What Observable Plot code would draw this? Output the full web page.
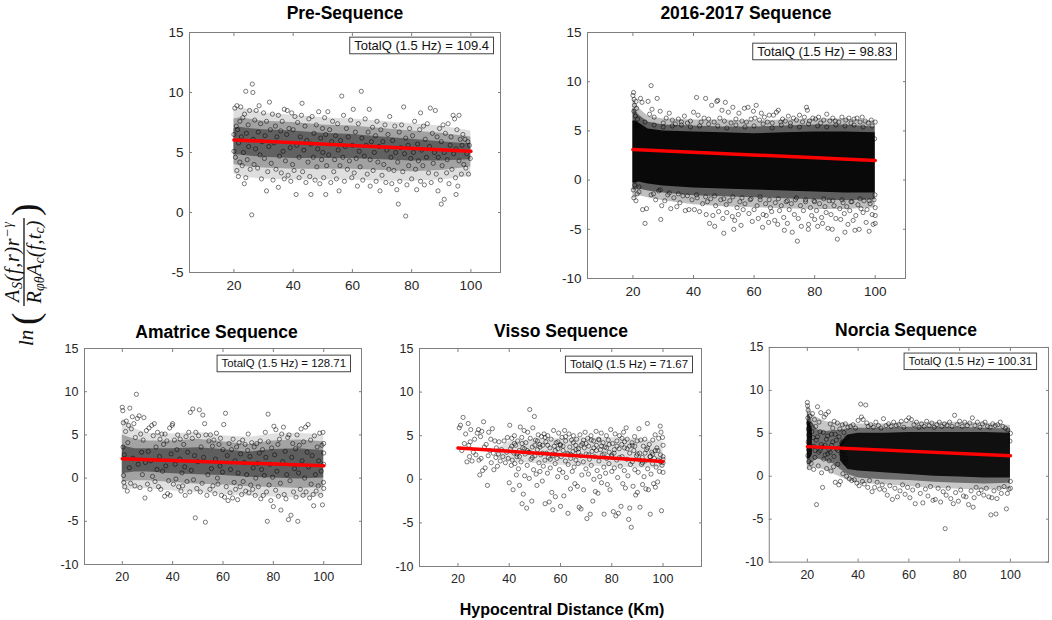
<!DOCTYPE html>
<html><head><meta charset="utf-8">
<script src="https://cdn.jsdelivr.net/npm/d3@7"></script>
<script src="https://cdn.jsdelivr.net/npm/@observablehq/plot@0.6"></script>
<style>
body{margin:0;background:#fff;}
#root{position:relative;width:1052px;height:620px;overflow:hidden;background:#fff;font-family:"Liberation Sans",Arial,Helvetica,sans-serif;}
.panel{position:absolute;}
#overlay{position:absolute;left:0;top:0;pointer-events:none;}
</style></head><body><div id="root"></div>
<script>
// ---------- DATA ----------
const titles = ["Pre-Sequence","2016-2017 Sequence","Amatrice Sequence","Visso Sequence","Norcia Sequence"];
const qLabels = ["TotalQ (1.5 Hz) = 109.4","TotalQ (1.5 Hz) = 98.83","TotalQ (1.5 Hz) = 128.71","TotalQ (1.5 Hz) = 71.67","TotalQ (1.5 Hz) = 100.31"];
const xTicks = [20,40,60,80,100];
const yTicksPre = [-5,0,5,10,15];
const yTicksSeq = [-10,-5,0,5,10,15];
const xLabel = "Hypocentral Distance (Km)";

// regression lines
const lineX = [20,100];
const preLineY = [6.05,5.1];
const seqLineY = [3.1,2.0];
const amaLineY = [2.25,1.42];
const visLineY = [3.6,2.05];
const norLineY = [3.45,2.4];

// density envelopes of each cloud (inner = densest, mid, outer = halo)
const preBandX = [20,22,25,30,40,50,60,70,80,90,100];
const preInLo  = [4.8,4.8,4.7,4.6,4.5,4.5,4.5,4.4,4.3,4.3,4.4];
const preInHi  = [7.0,7.1,7.0,6.9,6.8,6.6,6.5,6.3,6.1,5.9,5.7];
const preMidLo = [4.0,3.9,3.8,3.7,3.6,3.6,3.6,3.5,3.4,3.5,3.8];
const preMidHi = [7.8,7.9,7.8,7.6,7.5,7.3,7.2,7.0,6.8,6.6,6.3];
const preOutLo = [3.2,3.0,2.9,2.8,2.7,2.7,2.7,2.6,2.6,2.7,3.0];
const preOutHi = [8.6,8.7,8.6,8.3,8.1,7.9,7.8,7.6,7.4,7.2,6.8];

const seqBandX = [20,21,22,25,30,40,50,60,70,80,90,100];
const seqInLo  = [-0.3,-0.3,-0.2,-0.4,-0.6,-0.8,-0.9,-1.0,-1.1,-1.2,-1.3,-1.3];
const seqInHi  = [6.0,6.0,5.8,5.2,5.0,4.9,4.8,4.7,4.8,4.9,4.9,4.8];
const seqMidLo = [-1.0,-1.0,-0.9,-1.1,-1.3,-1.6,-1.7,-1.8,-1.9,-2.0,-2.1,-2.0];
const seqMidHi = [7.3,7.0,6.6,5.9,5.6,5.5,5.4,5.4,5.5,5.6,5.6,5.4];
const seqOutLo = [-1.9,-1.8,-1.6,-1.8,-2.1,-2.5,-2.7,-2.8,-2.9,-3.0,-3.0,-2.8];
const seqOutHi = [8.4,7.8,7.3,6.5,6.2,6.1,6.1,6.0,6.1,6.2,6.2,6.0];

const amaBandX = [20,22,25,30,40,50,60,70,80,90,100];
const amaInLo  = [0.5,0.6,0.7,0.7,0.5,0.4,0.3,0.1,0.0,-0.1,0.0];
const amaInHi  = [3.8,3.6,3.4,3.4,3.4,3.5,3.3,3.0,3.3,3.4,3.2];
const amaMidLo = [-0.5,-0.4,-0.3,-0.3,-0.5,-0.7,-0.8,-1.0,-1.1,-1.2,-1.1];
const amaMidHi = [5.0,4.8,4.5,4.3,4.3,4.5,4.2,3.9,4.3,4.4,4.2];
const amaOutLo = [-1.4,-1.3,-1.3,-1.2,-1.5,-1.7,-1.9,-2.1,-2.2,-2.3,-2.1];
const amaOutHi = [6.8,6.5,5.7,5.2,5.1,5.3,4.9,4.7,5.1,5.2,5.0];

const visBandX = [35,40,50,60,70,80,90,100];
const visMidLo = [2.5,2.0,1.8,1.6,1.5,1.4,1.3,1.3];
const visMidHi = [3.5,4.3,4.6,4.7,4.7,4.8,4.6,4.3];

const norBandX = [20,21,22,24,27,30,33,36,40,50,60,70,80,90,100];
const norInLo  = [2.0,2.0,2.5,null,null,null,1.8,0.8,0.6,0.4,0.2,0.0,-0.1,-0.2,-0.2];
const norInHi  = [6.5,6.3,5.5,null,null,null,3.8,4.8,5.0,5.0,5.1,5.1,5.1,5.1,5.0];
const norMidLo = [1.3,1.3,1.6,2.0,1.8,1.5,0.8,0.2,-0.2,-0.4,-0.5,-0.7,-0.8,-0.9,-0.8];
const norMidHi = [7.6,7.0,6.3,5.4,5.2,5.3,5.4,5.5,5.6,5.6,5.7,5.7,5.7,5.6,5.5];
const norOutLo = [0.7,0.8,1.0,1.0,0.7,0.3,-0.1,-0.5,-0.8,-1.0,-1.2,-1.4,-1.5,-1.6,-1.5];
const norOutHi = [8.4,8.0,7.2,6.8,6.4,6.2,6.2,6.1,6.1,6.1,6.3,6.3,6.3,6.2,5.9];

// scattered observations (x = distance km, y = ln ratio), flat x,y pairs
const preXY = [20,6.5,20,5.1,20.3,8.7,20.5,4.6,20.8,7.2,21,3.5,21,8.9,21.2,6.9,21.5,3.0,21.6,5.8,22,7.6,22,4.2,22.3,8.8,22.5,6.3,22.8,3.9,23,7.9,23.2,5.0,23.5,2.4,23.6,8.2,24,2.9,24,10.1,24.2,6.6,24.5,4.4,24.8,7.3,25,5.5,25.3,8.5,25.5,3.6,26,-0.2,26.2,10.7,26.4,10.0,26.5,6.1,26.8,4.0,27,7.7,27.3,5.3,27.5,8.5,28,3.7,28.2,6.7,28.5,8.9,28.8,4.8,29,7.4,29.3,2.8,29.5,5.9,
30,8.3,30.3,4.5,30.5,6.4,31,1.8,31,7.6,31.4,3.4,31.8,5.5,32,9.2,32.3,6.9,32.6,4.1,33,8.2,33.2,2.7,33.5,5.8,34,7.2,34.2,3.6,34.5,6.3,35,2.1,35,8.1,35.4,4.7,35.8,6.8,36,3.3,36.3,7.6,36.6,5.1,37,2.8,37,8.6,37.4,4.3,37.8,6.5,38,8.5,38.3,3.1,38.6,7.0,39,5.4,39.2,2.6,39.5,8.3,39.8,4.0,
40,6.9,40.3,3.5,40.6,8.0,41,1.5,41.2,5.6,41.5,7.5,42,2.9,42,4.6,42.4,6.3,42.8,8.1,43,9.1,43.2,3.4,43.6,5.2,44,7.2,44.3,2.5,44.6,6.0,45,4.2,45.3,7.8,45.6,3.0,46,1.5,46,5.7,46.4,8.0,46.8,4.6,47,6.6,47.4,2.7,47.8,7.3,48,3.8,48.3,5.3,48.6,8.4,49,2.4,49.3,6.2,49.6,4.4,49.9,7.0,
50,5.0,50.3,2.9,50.6,7.9,51,1.5,51,6.5,51.3,3.9,51.7,8.4,52,4.8,52.3,6.9,52.7,2.5,53,5.9,53.3,7.6,53.7,3.4,54,4.4,54.3,6.4,54.6,2.8,55,7.4,55.2,5.2,55.5,1.8,55.8,3.9,56,6.0,56.4,9.7,56.8,4.6,57,8.1,57.3,2.6,57.6,5.5,58,7.0,58.3,3.6,58.6,6.3,59,4.3,59.4,7.7,59.8,2.9,
60,5.6,60.3,8.6,60.6,3.3,61,6.7,61.3,4.5,61.7,2.2,62,7.4,62.3,5.1,62.6,3.8,63,10.1,63.2,6.2,63.5,2.7,64,4.7,64.3,7.8,64.6,5.6,65,3.2,65.3,6.7,65.7,8.6,66,2.2,66,4.4,66.4,5.9,66.8,7.1,67,3.5,67.4,5.0,67.8,6.4,68,2.6,68.3,7.6,68.6,4.2,69,5.5,69.3,1.8,69.6,6.9,70,3.1,
70.3,5.9,70.6,4.0,71,7.3,71.3,2.5,71.6,5.2,72,6.5,72.3,3.6,72.6,8.0,73,4.6,73.3,2.4,73.6,6.0,74,3.5,74.3,7.2,74.6,5.0,75,1.9,75.3,4.2,75.5,0.7,75.8,6.7,76,2.6,76.3,5.4,76.6,7.3,77,3.4,77.3,8.8,77.6,4.9,78,-0.3,78,6.2,78.4,2.3,78.8,5.6,79,3.9,79.3,7.0,79.7,4.5,
80,2.8,80.3,6.4,80.6,5.0,81,7.6,81.3,3.6,81.7,1.9,82,5.7,82.3,4.3,82.7,6.9,83,2.6,83,8.3,83.4,5.2,83.8,3.9,84,7.2,84.3,2.3,84.6,6.1,85,4.6,85.3,7.4,85.7,3.3,86,5.5,86.3,8.7,86.6,2.5,87,6.6,87.3,4.1,87.7,5.0,88,8.5,88.3,3.2,88.6,6.3,88.9,1.8,89,4.6,89.4,7.0,89.7,2.7,
90,0.7,90,5.9,90.3,3.9,90.6,7.3,91,1.1,91,5.0,91.4,6.6,91.8,3.3,92,4.4,92.3,7.4,92.6,2.4,93,5.6,93.3,6.3,93.6,3.6,94,8.1,94.2,4.9,94.5,7.8,94.8,2.9,95,1.5,95,5.3,95.3,6.9,95.6,2.2,96,8.1,96,4.3,96.4,6.1,96.8,3.2,97,5.6,97.3,6.5,97.6,4.0,98,6.1,98.3,3.7,98.6,4.9,99,5.9,99.2,3.2,99.5,5.6,99.8,4.5];

const seqXY = [20,8.6,20.2,8.9,20.4,8.2,20.5,7.6,20.3,7.0,20.8,6.5,21,8.0,21.2,7.3,21.5,6.2,20.1,-1.0,20.3,-1.8,20.6,-0.5,21,-2.1,21.4,-1.4,22,-0.7,22.5,8.3,23,7.9,23.2,-3.0,24,-4.4,24.5,-2.9,25,8.0,25.5,6.7,26,9.6,26.3,7.2,26.8,-1.4,27,6.4,27.5,-2.0,28,8.3,28.5,-1.1,29,7.0,29.2,-4.0,29.5,-2.6,30,5.8,30.5,-2.1,31,6.3,31.5,-1.5,32,6.8,32.5,-2.9,33,6.1,33.5,-1.8,34,5.7,34.5,-2.7,35,6.2,35.5,-2.3,36,5.9,36.5,-1.6,37,6.5,37.3,-3.1,38,5.8,38.5,-3.0,39,6.0,39.5,-2.0,
40,6.9,40.3,-3.0,41,8.4,41.2,-1.8,41.5,6.6,42,-3.2,42.5,5.9,43,-2.4,43.5,6.3,44,8.3,44.2,-3.5,44.6,-2.2,45,6.2,45.3,-4.4,45.7,-1.9,46,7.6,46.4,-3.6,46.8,5.9,47,-4.7,47.3,-2.6,47.7,8.0,48,8.1,48.3,-3.2,48.7,6.3,49,-2.0,49.4,7.1,49.7,-3.9,50,-5.4,50.2,6.0,50.5,7.9,50.8,-2.5,51,-3.3,51.5,6.9,52,-2.1,52.4,5.8,52.8,-3.7,53,7.4,53.3,-5.0,53.6,-4.1,54,6.2,54.4,-2.8,54.8,-3.5,55,6.8,55.3,-2.2,55.7,-4.6,56,6.0,56.4,-3.0,56.8,7.3,57,-2.4,57.5,5.9,58,7.4,58.3,-3.4,58.7,-2.0,59,6.2,59.4,-4.2,59.8,7.0,
60,-3.0,60.3,6.3,60.7,7.6,61,-2.6,61.4,-3.9,61.8,6.1,62,-2.0,62.4,6.8,62.8,-4.8,63,-3.5,63.4,6.4,63.8,-2.4,64,-3.6,64.4,5.9,64.8,-4.3,65,6.6,65.4,-2.8,65.8,-3.2,66,5.8,66.4,6.6,66.8,-4.1,67,-2.3,67.4,6.9,67.8,-4.5,68,7.1,68.4,-3.1,68.8,5.9,69,-2.6,69.4,6.2,69.8,-3.8,70,-5.1,70.3,6.0,70.6,-2.2,71,-4.4,71.3,6.5,71.6,-3.0,72,5.8,72.3,-2.4,72.6,-5.3,73,6.3,73.3,-3.5,73.6,-2.0,74,6.1,74.3,-6.2,74.6,-3.9,75,6.6,75.3,-2.6,75.6,-4.7,76,5.9,76.3,-3.1,76.6,6.4,77,-2.2,77.3,7.4,77.6,7.1,77.9,-5.0,78,-4.5,78.3,6.0,78.6,-2.8,79,-3.6,79.4,6.3,79.8,-2.1,
80,-4.0,80.3,6.2,80.6,-3.1,81,-4.7,81.3,6.4,81.6,-2.4,82,5.8,82.3,-3.8,82.6,-4.4,83,6.1,83.4,-2.7,83.8,-3.3,84,6.7,84.4,-4.9,84.8,-2.1,85,6.0,85.4,-3.5,85.8,-5.0,86,6.3,86.4,-2.6,86.8,6.0,87,-3.9,87.5,-6.0,88,5.9,88.3,-2.9,88.6,-4.0,89,6.4,89.4,-2.3,89.8,-3.4,90,-5.3,90.3,6.1,90.6,-2.7,91,-4.5,91.3,6.3,91.6,-3.1,92,5.8,92.3,-2.2,92.7,-4.1,93,6.2,93.3,-5.1,93.6,-3.6,94,6.3,94.3,-2.5,94.7,-5.0,95,5.9,95.3,-2.9,95.7,6.4,96,-3.3,96.3,-2.1,96.7,6.0,97,-4.3,97.3,-3.0,97.7,5.8,98,-5.2,98.3,-2.4,98.7,6.1,99,-3.5,99.3,-4.5,99.6,-2.0,100,5.9,100,-2.8,100,-3.6,100,-4.4,99.8,4.2,99.9,-1.5,
21,5.5,24,5.9,27,5.6,30,5.4,33,5.5,36,5.6,39,5.4,42,5.5,45,5.7,48,5.5,51,5.3,54,5.6,57,5.4,60,5.5,63,5.7,66,5.3,69,5.6,72,5.5,75,5.4,78,5.7,81,5.5,84,5.4,87,5.6,90,5.5,93,5.6,96,5.4,99,5.5,22,-1.2,26,-1.5,29,-1.0,32,-1.3,35,-1.4,38,-1.6,41,-1.5,44,-1.7,47,-1.6,50,-1.9,53,-1.7,56,-1.8,59,-1.9,62,-1.7,65,-2.0,68,-1.9,71,-2.1,74,-1.8,77,-2.0,80,-2.2,83,-1.9,86,-2.1,89,-2.0,92,-2.2,95,-1.9,98,-2.1];

const amaXY = [20,8.2,20.2,7.8,20.4,6.4,20.3,3.6,20.5,0.3,20.6,-0.5,20.8,2.7,21,-1.0,21.3,5.4,21.6,6.6,22,-1.5,22.2,4.1,22.5,6.1,22.8,1.2,23,8.1,23.3,-0.6,23.6,5.7,24,7.1,24.2,2.3,24.6,6.3,25,-0.9,25.2,4.7,25.6,9.7,26,6.9,26.3,1.6,26.7,7.2,27,-1.1,27.3,5.1,27.7,3.0,28,0.4,28.3,4.4,28.6,7.0,29,-2.3,29.2,1.8,29.6,5.5,30,-0.7,30.3,3.1,30.6,5.8,31,-1.3,31.3,2.0,31.7,6.1,32,0.2,32.3,4.9,32.7,6.3,33,-0.4,33.4,3.6,33.8,1.0,34,5.3,34.4,-1.0,34.8,2.5,35,4.5,35.3,-1.3,35.7,5.1,36,0.8,36.4,3.9,36.8,-2.1,37,5.1,37.3,1.4,37.7,4.3,38,-1.8,38.4,-0.3,38.8,5.8,39,-2.0,39.4,2.8,39.8,6.1,
40,6.3,40.3,-0.7,40.7,4.4,41,1.6,41.3,-0.1,41.7,3.3,42,5.0,42.4,-1.0,42.8,2.2,43,4.5,43.3,-1.5,43.7,0.6,44,-0.9,44.4,3.9,44.8,1.3,45,-2.0,45.3,4.8,45.7,-0.4,46,3.0,46.4,5.3,46.8,-1.6,47,7.6,47.4,0.9,47.8,4.6,48,8.0,48.3,-0.2,48.7,2.6,49,-4.6,49.2,5.3,49.6,-1.2,50,1.9,50.3,4.9,50.6,7.9,51,-1.6,51.3,3.6,51.7,-0.6,52,7.3,52.3,2.4,52.7,6.3,53,-5.1,53.2,5.0,53.6,-2.0,54,0.4,54.4,4.3,54.8,-1.3,55,5.0,55.4,1.1,55.8,3.7,56,-0.9,56.4,4.4,56.8,-1.8,57,2.2,57.4,5.2,57.8,0.0,58,-0.7,58.4,3.9,58.8,1.4,59,4.6,59.4,-2.0,59.8,0.7,
60,3.3,60.3,6.2,60.6,-2.2,61,7.5,61.3,-1.0,61.7,2.6,62,-2.6,62.4,4.0,62.8,-1.7,63,1.0,63.4,3.3,63.8,-2.3,64,4.5,64.4,-0.5,64.8,2.0,65,-1.3,65.4,3.6,65.8,-2.5,66,0.6,66.4,4.1,66.8,-1.0,67,2.8,67.4,-1.9,67.8,4.4,68,-0.4,68.4,1.8,68.8,3.9,69,-1.5,69.4,0.4,69.8,3.2,70,5.1,70.3,-1.7,70.7,2.5,71,-0.8,71.4,4.1,71.8,-1.3,72,1.2,72.4,3.6,72.8,-2.0,73,0.0,73.4,4.0,73.8,1.7,74,-1.0,74.4,2.9,74.8,4.3,75,-2.4,75.3,1.0,75.7,3.3,76,-2.0,76.4,0.3,76.8,5.3,77,2.4,77.3,-1.6,77.6,-5.0,77.9,7.4,78,4.2,78.3,-0.8,78.7,1.6,79,-2.6,79.3,3.5,79.7,0.1,
80,-3.3,80.2,6.0,80.5,2.7,80.9,-1.4,81,5.6,81.4,0.8,81.8,3.9,82,-2.1,82.4,4.5,82.8,-0.6,83,-3.7,83.3,5.1,83.7,1.9,84,5.9,84.3,-1.9,84.7,3.1,85,-2.4,85.3,0.4,85.7,4.7,86,-4.8,86.2,5.0,86.6,-0.3,87,-4.3,87.3,2.4,87.7,4.0,88,-1.6,88.4,1.1,88.8,3.4,89,-2.2,89.4,5.0,89.7,-5.0,90,0.6,90.3,3.8,90.7,-1.3,91,5.7,91.4,2.0,91.8,-2.0,92,4.2,92.4,0.0,92.8,5.9,93,-1.6,93.4,3.0,93.8,6.2,94,1.3,94.4,-2.3,94.8,4.4,95,-0.7,95.4,2.6,95.8,-1.9,96,-3.2,96.3,4.9,96.7,0.4,97,-1.5,97.4,3.6,97.8,-0.9,98,2.0,98.4,5.2,98.8,-2.0,99,0.8,99.3,3.8,99.5,-3.1,99.7,5.3,99.9,-0.5,100,1.6,100,4.0,100,2.9,100,-1.2];

const visXY = [20.5,5.9,21,6.2,21.5,3.3,22,7.1,22.5,4.1,23,5.2,23.5,2.0,24,6.4,24.2,3.9,24.5,2.6,24.8,4.3,25,5.7,25.5,2.1,26,3.1,26.5,4.6,27,2.8,27.5,5.3,28,5.7,28.2,2.2,28.5,0.5,28.8,4.9,29,2.4,29.3,5.5,29.6,1.0,30,6.6,30.3,3.7,30.6,1.3,31,4.0,31.5,-0.7,31.8,2.7,32,5.4,32.4,3.3,32.8,4.6,33,1.9,33.4,5.8,33.8,3.0,34,1.1,34.4,4.4,34.8,2.5,35,3.6,35.4,1.5,35.8,2.9,36,4.3,36.5,2.1,37,3.4,37.5,2.6,38,4.4,38.5,1.9,39,3.1,39.3,4.8,39.6,2.4,
40,-0.4,40.2,6.2,40.5,3.5,40.8,1.6,41,4.7,41.2,2.2,41.5,-1.2,41.8,3.0,42,5.0,42.2,1.8,42.5,3.9,42.8,0.5,43,2.6,43.3,4.4,43.6,1.2,43.9,3.3,44,-0.7,44.3,6.0,44.6,2.0,44.9,4.8,45,-2.8,45.3,3.6,45.5,-1.7,45.8,5.6,46,0.4,46.2,2.9,46.5,4.2,46.8,-3.3,47,1.6,47.2,5.4,47.5,3.1,47.8,0.1,48,8.0,48.2,4.7,48.5,2.3,48.8,-2.5,49,3.7,49.2,5.9,49.5,1.1,49.8,7.2,
50,2.7,50.2,4.5,50.5,0.6,50.8,-0.7,51,3.4,51.3,5.1,51.6,1.9,51.9,4.0,52,0.9,52.3,2.8,52.6,4.9,52.9,-0.2,53,3.9,53.3,1.5,53.6,5.2,53.9,2.2,54,-2.8,54.3,4.3,54.6,3.0,54.9,0.7,55,5.0,55.3,2.5,55.6,-2.6,55.9,3.6,56,1.3,56.3,4.6,56.6,-1.5,56.9,2.9,57,-3.5,57.3,5.6,57.6,3.8,57.9,1.8,58,-2.0,58.3,4.2,58.6,2.4,58.9,0.3,59,3.5,59.3,5.3,59.6,1.1,59.9,4.0,
60,-3.1,60.3,2.6,60.6,4.8,60.9,0.8,61,3.3,61.3,-1.9,61.6,5.6,61.9,2.1,62,4.4,62.3,0.2,62.6,3.0,62.9,-3.9,63,1.7,63.3,5.2,63.6,3.7,63.9,-1.1,64,2.4,64.3,4.5,64.6,0.9,64.9,3.2,65,5.0,65.3,1.4,65.6,-0.5,65.9,3.9,66,2.2,66.3,4.6,66.6,-0.8,66.9,1.8,67,3.5,67.3,-3.2,67.6,5.1,67.9,2.7,68,-3.4,68.3,0.5,68.6,4.1,68.9,2.0,69,-1.2,69.3,3.6,69.6,5.4,69.9,1.2,
70,2.9,70.3,-4.5,70.6,4.7,70.9,0.6,71,3.8,71.3,2.3,71.6,-4.0,71.9,5.0,72,1.6,72.3,3.2,72.6,-2.5,72.9,4.4,73,0.0,73.3,2.6,73.6,-1.4,73.9,5.5,74,3.9,74.3,1.0,74.6,-1.6,74.9,4.6,75,2.1,75.3,0.3,75.6,3.4,75.9,5.3,76,-0.4,76.3,2.8,76.6,4.2,76.9,1.4,77,-4.0,77.3,3.7,77.6,0.7,77.9,5.0,78,2.4,78.3,-0.6,78.6,4.5,78.9,1.8,79,3.1,79.3,-1.2,79.6,5.7,79.9,2.6,
80,0.9,80.3,4.1,80.6,-3.7,80.9,3.0,81,1.3,81.3,5.2,81.6,-4.2,81.9,2.2,82,4.4,82.3,0.2,82.6,-3.9,82.9,3.5,83,5.0,83.3,1.5,83.6,-3.1,83.9,4.0,84,2.6,84.3,-0.5,84.6,5.4,84.9,1.0,85,3.6,85.3,-1.0,85.6,5.9,85.9,2.3,86,4.6,86.3,0.4,86.6,-4.6,86.9,3.8,87,-3.3,87.3,1.7,87.6,-5.5,87.9,4.2,88,2.0,88.3,-0.8,88.6,3.3,88.9,4.9,89,1.1,89.3,-1.8,89.6,2.7,89.9,4.4,
90,-1.5,90.3,0.8,90.6,5.8,90.9,3.0,91,-3.2,91.3,4.5,91.6,1.7,91.9,2.5,92,-0.6,92.3,3.8,92.6,0.3,92.9,4.6,93,2.1,93.3,-1.1,93.6,3.4,93.9,6.4,94,1.2,94.3,-1.2,94.6,4.0,94.9,2.6,95,-4.0,95.3,0.6,95.6,3.1,95.9,1.8,96,4.5,96.3,-0.5,96.6,2.4,96.9,5.1,97,-0.9,97.3,1.4,97.6,3.6,97.9,-0.3,98,2.2,98.3,4.7,98.6,0.9,98.9,6.1,99,2.8,99.2,5.4,99.4,-3.6,99.6,1.6,99.8,4.8,100,2.3,100,0.8,100,3.9,100,2.6,
41,3.8,43,2.9,45,4.1,47,3.3,49,2.5,51,4.4,53,3.0,55,3.9,57,2.7,59,4.3,61,3.8,63,2.9,65,4.2,67,3.1,69,4.5,71,2.8,73,3.6,75,4.5,77,2.9,79,4.0,81,3.4,83,2.5,85,4.3,87,3.0,89,3.8,91,2.2,93,3.0,95,2.6,97,3.3,99,2.0,42,4.1,46,3.5,50,3.9,54,4.8,58,3.3,62,4.9,66,3.4,70,4.1,74,3.3,78,3.6,82,3.8,86,3.5,90,2.9,94,3.6,98,3.3,60,3.9,64,2.8,68,3.9,72,4.5,76,3.8,80,2.8,84,4.7,88,3.9,92,1.9,96,2.9,100,1.9,56,2.3,52,3.7,48,3.1,44,2.6];

const norXY = [20,8.6,20.1,8.2,20.3,7.7,20.2,6.8,20.5,6.2,20.4,5.5,20.6,4.8,20.3,4.0,20.5,3.1,20.2,2.4,20.6,1.7,20.8,1.0,21,7.0,21.2,6.0,21.5,1.5,21.8,5.2,22,7.3,22.3,4.5,22.5,0.8,22.8,6.6,23,2.2,23.3,5.8,23.6,-3.3,24,8.1,24.3,1.2,24.6,6.3,25,3.0,25.3,7.4,25.6,0.4,26,-1.3,26.3,5.1,26.6,6.9,27,2.5,27.3,7.2,27.6,0.9,28,4.7,28.3,7.5,28.6,1.8,29,6.1,29.3,0.6,29.6,3.6,30,5.6,30.3,1.1,30.6,6.4,31,-0.7,31.4,4.2,31.8,6.2,32,1.4,32.4,-1.0,32.8,5.5,33,-0.6,33.4,2.6,33.8,6.0,34,0.3,34.4,5.1,34.8,1.6,35,6.1,35.5,0.0,36,5.7,36.5,-0.3,37,5.8,37.5,-0.5,38,6.0,38.5,-0.4,39,5.6,39.5,-0.8,
40,6.5,40.4,-1.1,41,8.4,41.3,6.9,41.7,-0.6,42,6.6,42.4,-0.9,43,8.3,43.4,6.2,43.8,-1.3,44,5.8,44.5,-0.5,45,6.0,45.5,-1.8,46,5.7,46.5,-1.3,47,6.3,47.5,-0.7,48,5.9,48.5,-1.5,49,5.6,49.5,-1.0,50,6.7,50.4,-1.6,51,5.9,51.5,-2.2,52,6.1,52.5,-1.1,53,5.8,53.5,-2.7,54,6.3,54.5,-1.4,55,5.9,55.5,-2.4,56,6.0,56.5,-1.7,57,6.4,57.5,-1.0,58,5.7,58.5,-2.1,59,6.5,59.5,-1.3,
60,6.8,60.4,-2.5,61,6.6,61.5,-1.6,62,6.0,62.5,-3.2,63,6.3,63.5,-1.1,64,5.7,64.5,-2.0,65,6.1,65.5,-3.1,66,5.8,66.5,-1.5,67,6.4,67.5,-2.3,68,5.9,68.5,-1.2,69,6.2,69.5,-2.8,70,5.7,70.4,-2.7,71,6.0,71.5,-1.4,72,6.3,72.5,-3.0,73,5.8,73.5,-1.8,74,6.1,74.3,-6.1,74.7,-2.2,75,5.9,75.5,-1.4,76,6.3,76.5,-2.6,77,5.8,77.5,-3.2,78,7.1,78.4,-1.9,79,6.0,79.5,-2.9,
80,6.4,80.4,-1.6,81,5.8,81.5,-2.3,82,6.3,82.5,-2.4,83,5.9,83.5,-3.3,84,6.2,84.5,-1.7,85,6.8,85.3,-3.6,85.7,-2.5,86,5.9,86.5,-1.3,87,6.3,87.5,-2.0,88,5.7,88.5,-1.6,89,6.1,89.5,-2.2,90,6.3,90.5,-1.4,91,5.8,91.5,-2.4,92,5.7,92.3,-4.5,92.7,-2.5,93,6.1,93.5,-1.7,94,5.9,94.3,-4.4,94.7,-2.6,95,6.0,95.5,-1.4,96,6.3,96.4,-2.0,97,5.8,97.5,-1.2,98,5.6,98.4,-3.8,98.8,-2.0,99,5.4,99.4,-1.5,100,5.0,100,-1.4,100,-0.6,99.8,4.1,
22.5,3.5,23.5,4.2,24.5,2.8,25.5,3.7,26.5,2.0,27.5,4.3,28.5,3.1,29.5,4.9,30.5,2.3,31.5,3.2,32.5,4.6,33.5,3.9,34.5,2.9,35.5,4.5,23,3.0,25,5.2,27,3.6,29,2.8,31,4.9,33,3.4,35,2.1,24,4.6,26,3.4,28,2.6,30,4.0,32,3.0,34,4.1];

// ---------- LAYOUT / STYLE (not data) ----------
const layout = [
  {l:189,t:32,r:500,b:272, xd:[5,110], yd:[-5,15], yt:yTicksPre, qr:7,  qt:5,  tf:13.5, qf:13,   tx:345,   ty:18.5, op:[0.4,0.27,0.13]},
  {l:587,t:32,r:905,b:278, xd:[5,110], yd:[-10,15], yt:yTicksSeq, qr:9, qt:11, tf:13.5, qf:13,   tx:746,   ty:18.5, op:[0.9,0.5,0.25]},
  {l:84, t:348,r:361,b:564, xd:[5,115], yd:[-10,15], yt:yTicksSeq, qr:11,qt:7, tf:12.5, qf:11.4, tx:216.5, ty:338,  op:[0.42,0.27,0.12]},
  {l:419,t:348,r:701,b:566, xd:[5,115], yd:[-10,15], yt:yTicksSeq, qr:9, qt:8, tf:12.5, qf:11.4, tx:561,   ty:337,  op:[0,0.12,0]},
  {l:769,t:347,r:1050,b:563,xd:[5,115], yd:[-10,15], yt:yTicksSeq, qr:12,qt:6, tf:12.5, qf:11.4, tx:906,   ty:336,  op:[0.85,0.45,0.22]}
];

const pairs = a => { const o=[]; for(let i=0;i<a.length;i+=2) o.push({x:a[i], y:a[i+1]}); return o; };
const pick = (a,i) => a ? a[i] : null;
const bandTable = (X,lo,hi,mlo,mhi,olo,ohi) => X.map((x,i)=>({x, lo:pick(lo,i), hi:pick(hi,i), mlo:pick(mlo,i), mhi:pick(mhi,i), olo:pick(olo,i), ohi:pick(ohi,i)}));
const lineTable = Y => lineX.map((x,i)=>({x, y:Y[i]}));

const series = [
  {pts:pairs(preXY), band:bandTable(preBandX,preInLo,preInHi,preMidLo,preMidHi,preOutLo,preOutHi), line:lineTable(preLineY)},
  {pts:pairs(seqXY), band:bandTable(seqBandX,seqInLo,seqInHi,seqMidLo,seqMidHi,seqOutLo,seqOutHi), line:lineTable(seqLineY)},
  {pts:pairs(amaXY), band:bandTable(amaBandX,amaInLo,amaInHi,amaMidLo,amaMidHi,amaOutLo,amaOutHi), line:lineTable(amaLineY)},
  {pts:pairs(visXY), band:bandTable(visBandX,null,null,visMidLo,visMidHi,null,null), line:lineTable(visLineY)},
  {pts:pairs(norXY), band:bandTable(norBandX,norInLo,norInHi,norMidLo,norMidHi,norOutLo,norOutHi), line:lineTable(norLineY)}
];

const root = document.getElementById("root");
const FONT = "Liberation Sans, Arial, Helvetica, sans-serif";
const AX = "#7f7f7f", TXT = "#262626";
const fmt = d => String(d);

layout.forEach((L, i) => {
  const S = series[i];
  const ml = 40, mr = 4, mt = 6, mb = 28;
  const W = (L.r - L.l) + ml + mr, H = (L.b - L.t) + mt + mb;
  const marks = [];
  if (L.op[2] > 0) marks.push(Plot.areaY(S.band, {x:"x", y1:"olo", y2:"ohi", fill:"#000", fillOpacity:L.op[2]}));
  if (L.op[1] > 0) marks.push(Plot.areaY(S.band, {x:"x", y1:"mlo", y2:"mhi", fill:"#000", fillOpacity:L.op[1]}));
  if (L.op[0] > 0) marks.push(Plot.areaY(S.band, {x:"x", y1:"lo", y2:"hi", fill:"#000", fillOpacity:L.op[0]}));
  marks.push(
    Plot.dot(S.pts, {x:"x", y:"y", r:2.1, stroke:"#000", strokeWidth:0.6, strokeOpacity:0.85, fill:"none"}),
    Plot.line(S.line, {x:"x", y:"y", stroke:"#ff0000", strokeWidth:3.5}),
    Plot.frame({stroke:AX, strokeWidth:1}),
    Plot.axisX({ticks:xTicks, tickSize:-3, tickPadding:11, tickFormat:fmt, stroke:AX, fill:TXT, fontSize:L.tf, label:null}),
    Plot.axisX({anchor:"top", ticks:xTicks, tickSize:-3, tickFormat:()=>"", stroke:AX, label:null}),
    Plot.axisY({ticks:L.yt, tickSize:-3, tickPadding:9, tickFormat:fmt, stroke:AX, fill:TXT, fontSize:L.tf, label:null}),
    Plot.axisY({anchor:"right", ticks:L.yt, tickSize:-3, tickFormat:()=>"", stroke:AX, label:null}),
    Plot.text([qLabels[i]], {text:d=>d, frameAnchor:"top-right", dx:-(L.qr+4.5), dy:L.qt+8.3, textAnchor:"end", lineAnchor:"middle", fill:"#111", fontSize:L.qf})
  );
  const svg = Plot.plot({
    width:W, height:H, marginLeft:ml, marginRight:mr, marginTop:mt, marginBottom:mb,
    x:{domain:L.xd}, y:{domain:L.yd},
    style:{fontFamily:FONT, background:"transparent", overflow:"visible"},
    marks
  });
  const div = document.createElement("div");
  div.className = "panel";
  div.style.left = (L.l - ml) + "px";
  div.style.top = (L.t - mt) + "px";
  div.appendChild(svg);
  root.appendChild(div);
  // box around the TotalQ annotation
  const t = svg.querySelector('g[aria-label="text"] text');
  if (t) {
    const bb = t.getBBox();
    const cy = bb.y + bb.height/2;
    const rect = document.createElementNS("http://www.w3.org/2000/svg","rect");
    rect.setAttribute("x", bb.x - 4.5); rect.setAttribute("y", cy - 8.3);
    rect.setAttribute("width", bb.width + 9); rect.setAttribute("height", 16.6);
    rect.setAttribute("fill", "#fff"); rect.setAttribute("stroke", "#444"); rect.setAttribute("stroke-width", 1);
    const tr = t.getAttribute("transform");
    if (tr) rect.setAttribute("transform", tr);
    t.parentNode.insertBefore(rect, t);
  }
});

// ---------- overlay: titles, axis labels ----------
const ov = d3.select(root).append("svg").attr("id","overlay").attr("width",1052).attr("height",620);
layout.forEach((L,i) => {
  ov.append("text").attr("x",L.tx).attr("y",L.ty).attr("text-anchor","middle")
    .attr("font-family",FONT).attr("font-weight","bold").attr("font-size",17.5).attr("fill","#000").text(titles[i]);
});
ov.append("text").attr("x",562).attr("y",615).attr("text-anchor","middle")
  .attr("font-family",FONT).attr("font-weight","bold").attr("font-size",16).attr("fill","#000").text(xLabel);

// y label: ln( A_S(f,r) r^-γ / R_φθ A_c(f,t_c) ), rotated
const SERIF = "Liberation Serif, Times New Roman, serif";
const yl = ov.append("g").attr("transform","translate(24,262) rotate(-90)")
  .attr("font-family",SERIF).attr("font-style","italic").attr("fill","#111");
yl.append("text").attr("x",-84).attr("y",9).attr("font-size",21).text("ln");
yl.append("text").attr("transform","translate(-63,14) scale(1.5,1.55)").attr("font-size",25).attr("font-style","normal").text("(");
yl.append("text").attr("transform","translate(46,14) scale(1.5,1.55)").attr("font-size",25).attr("font-style","normal").text(")");
yl.append("line").attr("x1",-44).attr("x2",44).attr("y1",0).attr("y2",0).attr("stroke","#111").attr("stroke-width",1.3);
const num = yl.append("text").attr("x",0).attr("y",-5).attr("text-anchor","middle").attr("font-size",20)
  .attr("textLength",80).attr("lengthAdjust","spacing");
num.append("tspan").text("A");
num.append("tspan").attr("font-size",14).attr("dy",3).text("S");
num.append("tspan").attr("dy",-3).text("(f,r)r");
num.append("tspan").attr("font-size",14).attr("dy",-7).text("\u2212\u03b3");
const den = yl.append("text").attr("x",0).attr("y",17).attr("text-anchor","middle").attr("font-size",20)
  .attr("textLength",83).attr("lengthAdjust","spacing");
den.append("tspan").text("R");
den.append("tspan").attr("font-size",14).attr("dy",3).text("\u03c6\u03b8");
den.append("tspan").attr("dy",-3).text("A");
den.append("tspan").attr("font-size",14).attr("dy",3).text("c");
den.append("tspan").attr("dy",-3).text("(f,t");
den.append("tspan").attr("font-size",14).attr("dy",3).text("c");
den.append("tspan").attr("dy",-3).text(")");
</script></body></html>
